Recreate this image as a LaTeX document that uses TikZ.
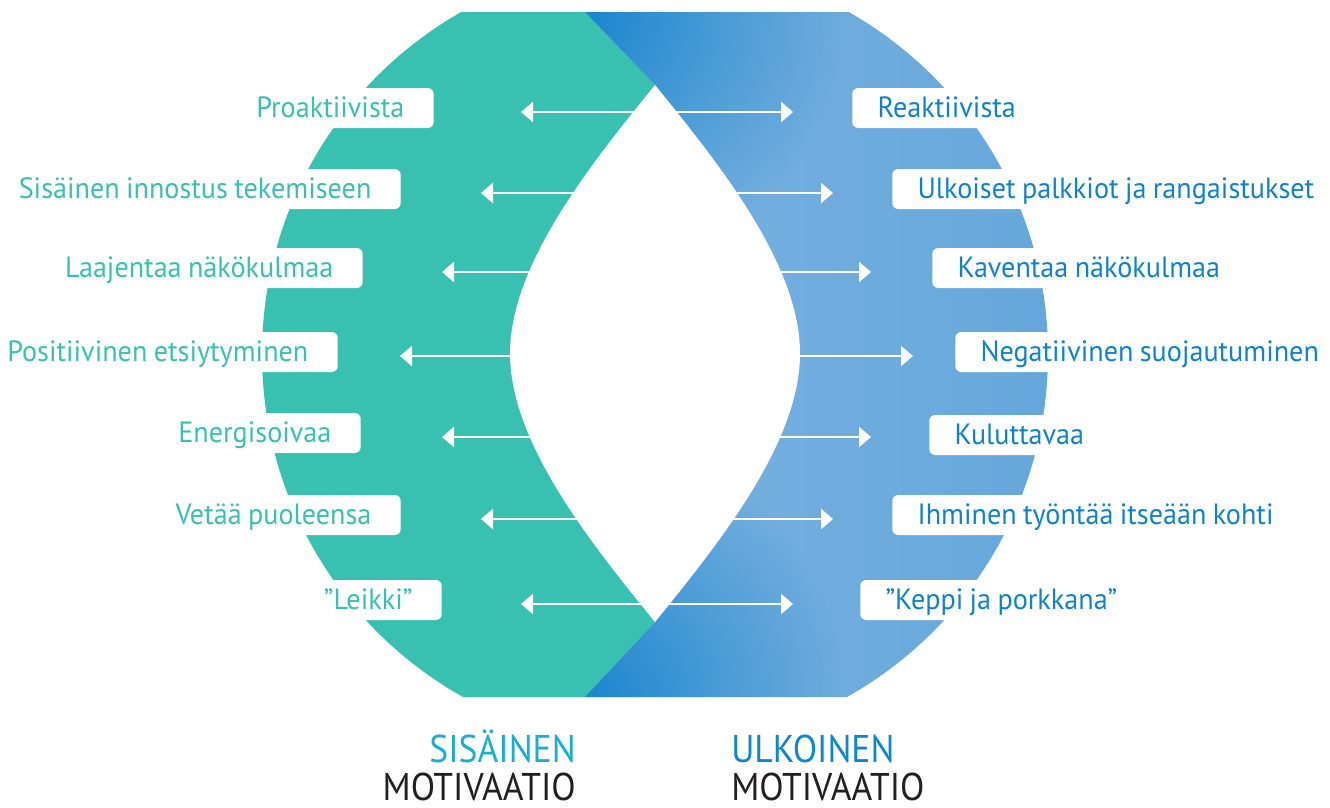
\documentclass[tikz,border=0pt]{standalone}
\usepackage{fontspec}
\setmainfont{PT Sans}
\newfontfamily\labelfamily[FakeStretch=0.96,WordSpace=0.85]{PT Sans}
\newfontfamily\headfamily[FakeStretch=0.92]{PT Sans}
\usetikzlibrary{arrows.meta,fadings}

\definecolor{tealfill}{HTML}{38C1B0}
\definecolor{tealtext}{HTML}{38C1B0}
\definecolor{bluetext}{HTML}{0F83CA}
\definecolor{blueleft}{HTML}{7AB2E0}
\definecolor{blueright}{HTML}{66A7DB}
\definecolor{bluecorner}{HTML}{1A86CE}
\definecolor{headteal}{HTML}{16AFD1}
\definecolor{headblue}{HTML}{0B87CE}
\definecolor{darktext}{HTML}{231F20}

\tikzfading[name=cornerfade, inner color=transparent!0, outer color=transparent!100]

\begin{document}
\begin{tikzpicture}[x=0.75pt,y=-0.75pt,
  labelfont/.style={font=\labelfamily\fontsize{22}{26}\selectfont},
  lbox/.style={labelfont, fill=white, rounded corners=4.5pt, anchor=east,
    inner xsep=22pt, inner ysep=0pt, text height=22pt, text depth=8pt, text=tealtext},
  rbox/.style={labelfont, fill=white, rounded corners=4.5pt, anchor=west,
    inner xsep=19pt, inner ysep=0pt, text height=22pt, text depth=8pt, text=bluetext},
  arr/.style={draw=white, line width=1.8pt, -{Triangle[length=9pt,width=15pt]}},
  headfont/.style={font=\headfamily\fontsize{29}{34}\selectfont, inner sep=0pt}
]
\useasboundingbox (0,0) rectangle (1330,807);

% outer disc, flattened at top and bottom
\begin{scope}
  \clip (0,12) rectangle (1330,697);
  \clip (655,354) circle (393);
  % left half
  \fill[tealfill] (0,12) -- (585,12) -- (655,85) -- (655,622) -- (585,697) -- (0,697) -- cycle;
  % right half with gradient
  \begin{scope}
    \clip (585,12) -- (1050,12) -- (1050,697) -- (585,697) -- (655,622) -- (655,85) -- cycle;
    \shade[left color=blueleft, right color=blueright] (585,12) rectangle (1050,697);
    \fill[bluecorner, path fading=cornerfade] (585,12) circle (260);
    \fill[bluecorner, path fading=cornerfade] (585,697) circle (260);
  \end{scope}
\end{scope}

% central lens
\fill[white] (655,85) .. controls (590,165) and (510,265) .. (510,353.5)
  .. controls (510,442) and (590,542) .. (655,622)
  .. controls (720,542) and (800,442) .. (800,353.5)
  .. controls (800,265) and (720,165) .. (655,85) -- cycle;

% left labels
\node[lbox] (l1) at (434,108) {Proaktiivista};
\node[lbox] (l2) at (401,189) {Sisäinen innostus tekemiseen};
\node[lbox] (l3) at (363,268) {Laajentaa näkökulmaa};
\node[lbox] (l4) at (338,352) {Positiivinen etsiytyminen};
\node[lbox] (l5) at (361,433) {Energisoivaa};
\node[lbox] (l6) at (401,515) {Vetää puoleensa};
\node[lbox] (l7) at (442,600) {”Leikki”};

% right labels
\node[rbox] (r1) at (852,108) {Reaktiivista};
\node[rbox] (r2) at (892,189) {Ulkoiset palkkiot ja rangaistukset};
\node[rbox] (r3) at (932,268) {Kaventaa näkökulmaa};
\node[rbox] (r4) at (955,352) {Negatiivinen suojautuminen};
\node[rbox] (r5) at (929,435) {Kuluttavaa};
\node[rbox] (r6) at (892,515) {Ihminen työntää itseään kohti};
\node[rbox] (r7) at (860,600) {”Keppi ja porkkana”};

% arrow start points on the lens axis and arrow tips
\foreach \i/\y/\lt/\rt in {1/112/521/793, 2/193/481/833, 3/272/442/871,
    4/356/400/913, 5/437/442/871, 6/519/481/833, 7/604/521/793} {
  \coordinate (m\i) at (655,\y);
  \coordinate (tl\i) at (\lt,\y);
  \coordinate (tr\i) at (\rt,\y);
  \draw[arr] (m\i) -- (tl\i);
  \draw[arr] (m\i) -- (tr\i);
}

% headings
\node[headfont, anchor=base east, text=headteal] (h1) at (576,762) {SISÄINEN};
\node[headfont, anchor=base east, text=darktext] (h2) at (576,800) {MOTIVAATIO};
\node[headfont, anchor=base west, text=headblue] (h3) at (731,762) {ULKOINEN};
\node[headfont, anchor=base west, text=darktext] (h4) at (731,800) {MOTIVAATIO};
\end{tikzpicture}
\end{document}
